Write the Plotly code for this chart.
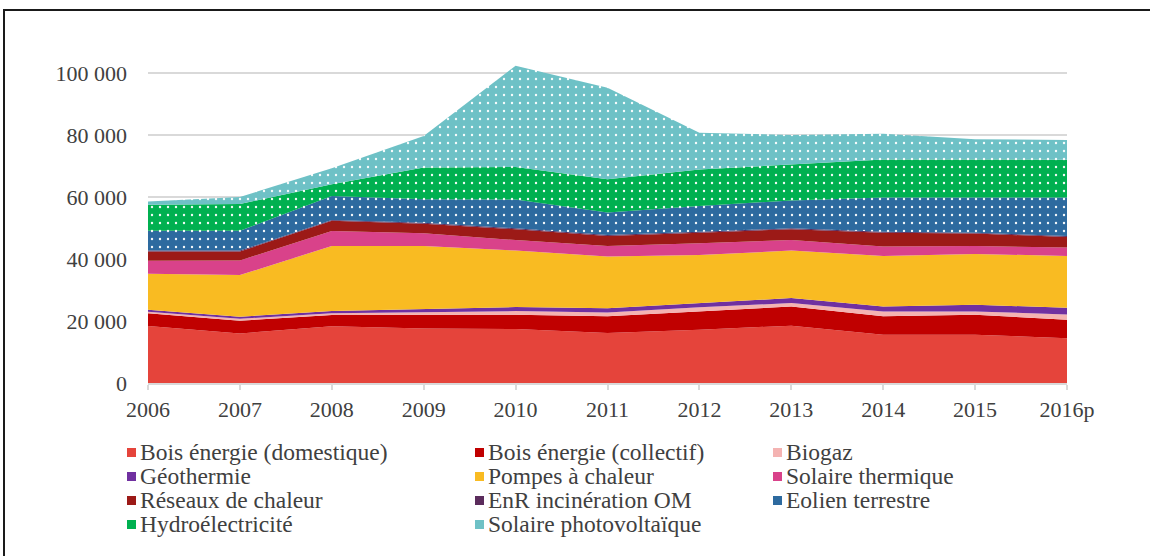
import plotly.graph_objects as go

annees = ["2006", "2007", "2008", "2009", "2010", "2011", "2012", "2013", "2014", "2015", "2016p"]

bois_domestique = [18400, 16000, 18300, 17600, 17400, 16100, 17200, 18500, 15600, 15600, 14400]
bois_collectif = [4100, 4100, 3600, 4300, 4600, 5400, 5900, 6200, 5900, 6400, 6000]
biogaz = [500, 600, 600, 900, 1200, 1200, 1300, 1100, 1600, 1100, 1700]
geothermie = [600, 700, 700, 1000, 1300, 1400, 1400, 1600, 1600, 2100, 2200]
pompes_chaleur = [11600, 13400, 21000, 20400, 18200, 16700, 15500, 15300, 16300, 16400, 16700]
solaire_thermique = [4200, 4700, 4800, 4100, 3400, 3400, 3800, 3400, 3000, 2600, 2700]
reseaux_chaleur = [3000, 2900, 3300, 3100, 3500, 3200, 3400, 3500, 4500, 4000, 3400]
incineration_om = [300, 300, 300, 300, 300, 300, 300, 300, 300, 300, 300]
eolien = [6400, 6400, 7700, 7600, 9300, 7300, 8300, 9000, 11000, 11300, 12400]
hydro = [8400, 8600, 3800, 10200, 10500, 10700, 11800, 11600, 12300, 12300, 12200]
photovoltaique = [1000, 2300, 5200, 10200, 32600, 29500, 11800, 9500, 8300, 6500, 6400]

y_ticks = [0, 20000, 40000, 60000, 80000, 100000]
y_ticktext = ["0", "20 000", "40 000", "60 000", "80 000", "100 000"]

# (nom, valeurs, couleur, motif pointillé)
series = [
    ("Bois énergie (domestique)", bois_domestique, "#E5443B", False),
    ("Bois énergie (collectif)", bois_collectif, "#C00000", False),
    ("Biogaz", biogaz, "#F4B3B2", False),
    ("Géothermie", geothermie, "#7030A0", False),
    ("Pompes à chaleur", pompes_chaleur, "#F9BB22", False),
    ("Solaire thermique", solaire_thermique, "#D9428A", False),
    ("Réseaux de chaleur", reseaux_chaleur, "#9C1A17", False),
    ("EnR incinération OM", incineration_om, "#5B2C5C", False),
    ("Eolien terrestre", eolien, "#2D6A9F", True),
    ("Hydroélectricité", hydro, "#00B050", True),
    ("Solaire photovoltaïque", photovoltaique, "#6EC1C6", True),
]

FONT = "Liberation Serif"
TXT = "#404040"

# plot area in pixels
L, R, T, B = 148, 1067, 59, 383
W, H = 1150, 556


def px(x):
    return (x - L) / (R - L)


def py(y):
    return (B - y) / (B - T)


fig = go.Figure()
for nom, vals, col, pointille in series:
    kw = {}
    if pointille:
        kw["fillpattern"] = dict(shape=".", fgcolor="white", bgcolor=col,
                                 size=8, solidity=0.07, fgopacity=0.95)
    fig.add_trace(go.Scatter(x=annees, y=vals, name=nom, stackgroup="one",
                             mode="lines", line=dict(width=0, color=col),
                             fillcolor=col, showlegend=False, **kw))

# legende en 3 colonnes
col_x = [127, 475, 773]
row_y = [452, 476, 500, 524]
shapes = []
annotations = []
for i, (nom, vals, col, pointille) in enumerate(series):
    r, c = divmod(i, 3)
    x0, yc = col_x[c], row_y[r]
    shapes.append(dict(type="rect", xref="paper", yref="paper",
                       x0=px(x0), x1=px(x0 + 9), y0=py(yc + 5), y1=py(yc - 4),
                       fillcolor=col, line=dict(width=0)))
    annotations.append(dict(text=nom, xref="paper", yref="paper",
                            x=px(x0 + 11), y=py(yc), xanchor="left", yanchor="middle",
                            showarrow=False, font=dict(family=FONT, size=23.5, color=TXT)))

# cadre
shapes.append(dict(type="rect", xref="paper", yref="paper",
                   x0=px(4), x1=px(1170), y0=py(580), y1=py(10),
                   line=dict(color="#1a1a1a", width=2), fillcolor="rgba(0,0,0,0)"))

fig.update_layout(
    width=W, height=H,
    margin=dict(l=L, r=W - R, t=T, b=H - B),
    paper_bgcolor="white", plot_bgcolor="white",
    font=dict(family=FONT, size=22, color=TXT),
    showlegend=False,
    shapes=shapes,
    annotations=annotations,
    xaxis=dict(type="category", range=[0, 10], showgrid=False,
               showline=True, linecolor="#d9d9d9", linewidth=1.5,
               ticks="outside", ticklen=5, tickcolor="#d9d9d9", tickwidth=1.5,
               ticklabelstandoff=1, tickfont=dict(family=FONT, size=22, color=TXT)),
    yaxis=dict(range=[0, 104500], tickvals=y_ticks, ticktext=y_ticktext,
               showgrid=True, gridcolor="#d9d9d9", gridwidth=1.5,
               zeroline=False, showline=False, ticks="",
               ticklabelstandoff=20, tickfont=dict(family=FONT, size=22, color=TXT)),
)

fig.write_html("out.html", config={"displayModeBar": False},
               post_script="document.body.style.margin='0';")
